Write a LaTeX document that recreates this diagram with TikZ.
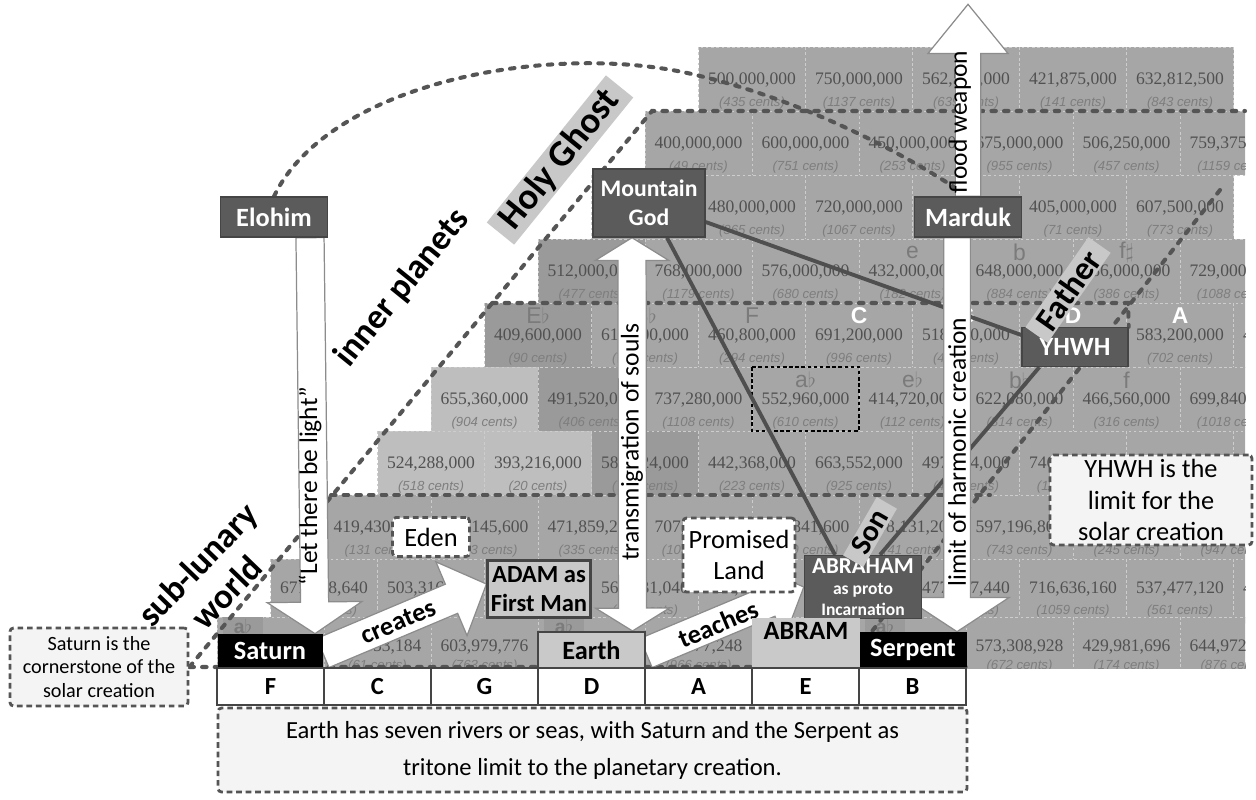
\documentclass[tikz,border=0pt]{standalone}
\usepackage{fontspec}
\setmainfont{Carlito}
\newfontfamily\numfont{Liberation Serif}
\newfontfamily\centfont{Liberation Sans}
\usetikzlibrary{calc}

\definecolor{cellm}{HTML}{A6A6A6}
\definecolor{celll}{HTML}{BEBEBE}
\definecolor{celld}{HTML}{9A9A9A}
\definecolor{cellline}{HTML}{CDCDCD}
\definecolor{numtxt}{HTML}{515151}
\definecolor{centtxt}{HTML}{7E7E7E}
\definecolor{notetxt}{HTML}{7B7B7B}
\definecolor{godfill}{HTML}{5B5B5B}
\definecolor{godline}{HTML}{454545}
\definecolor{lightfill}{HTML}{C9C9C9}
\definecolor{bandfill}{HTML}{C8C8C8}
\definecolor{dashline}{HTML}{555555}
\definecolor{wireline}{HTML}{4F4F4F}
\definecolor{arrowedge}{HTML}{8C8C8C}
\definecolor{notefill}{HTML}{F4F4F4}

\pgfdeclarelayer{grid}
\pgfdeclarelayer{wires}
\pgfsetlayers{grid,wires,main}

\def\px{0.02cm}

% one row of the staircase: name, left, top, number offset, cents offset, value/cents/shade
\newcommand{\cellrow}[6]{%
  \foreach \v/\c/\s [count=\j from 0] in {#6} {
    \path[cellbox, fill=cell\s] ({#2+107*\j},#3) rectangle ++(107,64);
    \node[numlbl] (#1-\j) at ({#2+107*\j+53.5},{#3+#4}) {\v};
    \node[centlbl] (#1-\j-c) at ({#2+107*\j+53.5},{#3+#5}) {(\c\ cents)};
  }}

% fat white arrow: [style] from, to, shaft half width, head half width, head length
\newcommand{\blockarrow}[6][]{%
  \draw[blockarr,#1] let \p1=(#2), \p2=(#3), \p3=($(\p2)!#6!(\p1)$) in
    ($(\p1)!#4!90:(\p2)$) -- ($(\p3)!#4!-90:(\p1)$) -- ($(\p3)!#5!-90:(\p1)$) -- (\p2)
    -- ($(\p3)!#5!90:(\p1)$) -- ($(\p3)!#4!90:(\p1)$) -- ($(\p1)!#4!-90:(\p2)$) -- cycle;}

% same, with a head at both ends
\newcommand{\dblockarrow}[6][]{%
  \draw[blockarr,#1] let \p1=(#2), \p2=(#3), \p3=($(\p2)!#6!(\p1)$), \p4=($(\p1)!#6!(\p2)$) in
    (\p1) -- ($(\p4)!#5!-90:(\p2)$) -- ($(\p4)!#4!-90:(\p2)$) -- ($(\p3)!#4!90:(\p1)$)
    -- ($(\p3)!#5!90:(\p1)$) -- (\p2) -- ($(\p3)!#5!-90:(\p1)$) -- ($(\p3)!#4!-90:(\p1)$)
    -- ($(\p4)!#4!90:(\p2)$) -- ($(\p4)!#5!90:(\p2)$) -- cycle;}

\begin{document}
\begin{tikzpicture}[x=\px, y=-\px,
  cellbox/.style={draw=cellline, line width=0.4pt, dash pattern=on 1.5pt off 1.5pt},
  numlbl/.style={font=\numfont\fontsize{10}{12}\selectfont, text=numtxt, inner sep=0pt},
  centlbl/.style={font=\centfont\itshape\fontsize{7.5}{9}\selectfont, text=centtxt, inner sep=0pt},
  notelbl/.style={font=\centfont\fontsize{13}{15}\selectfont, text=notetxt, inner sep=0pt},
  region/.style={draw=dashline, line width=2.3pt, line cap=round, dash pattern=on 2.6pt off 4.6pt},
  wire/.style={draw=wireline, line width=2.2pt},
  blockarr/.style={fill=white, draw=arrowedge, line width=0.7pt, line join=miter},
  godbox/.style={fill=godfill, draw=godline, line width=0.8pt, text=white, font=\bfseries\fontsize{15}{18}\selectfont, inner sep=0pt, align=center},
  blackbox/.style={fill=black, text=white, font=\bfseries\fontsize{15}{18}\selectfont, inner sep=0pt},
  lightbox/.style={fill=lightfill, draw=godline, line width=1.2pt, font=\bfseries\fontsize{15}{18}\selectfont, inner sep=0pt, align=center},
  letterbox/.style={fill=white, draw=godline, line width=1.3pt, font=\bfseries\fontsize{14}{16}\selectfont, minimum width=107*\px, minimum height=37*\px, inner sep=0pt},
  callout/.style={fill=notefill, draw=dashline, line width=1.6pt, dash pattern=on 3.2pt off 2.2pt, rounded corners=2pt, align=center, inner sep=0pt},
  band/.style={fill=bandfill, font=\bfseries\fontsize{21}{24}\selectfont, inner xsep=6pt, inner ysep=1pt},
  tag/.style={font=\bfseries\fontsize{20}{23}\selectfont, align=center, inner sep=0pt},
  flowtxt/.style={font=\fontsize{14.5}{17}\selectfont, inner sep=0pt},
  steptxt/.style={font=\bfseries\fontsize{15}{18}\selectfont, inner sep=0pt},
]
\useasboundingbox (0,0) rectangle (1256,799);

% boxes of the creation story
\node[godbox, minimum width=107*\px, minimum height=40*\px] (elohim) at (274,217) {Elohim};
\node[godbox, minimum width=112*\px, minimum height=68*\px, font=\bfseries\fontsize{13.5}{16.5}\selectfont] (mgod) at (649,203) {Mountain\\God};
\node[godbox, minimum width=107*\px, minimum height=40*\px] (marduk) at (968,217) {Marduk};
\node[godbox, minimum width=106*\px, minimum height=39*\px] (yhwh) at (1075,347) {YHWH};
\node[godbox, minimum width=117*\px, minimum height=63*\px, font=\bfseries\fontsize{13}{14}\selectfont] (abraham) at (863,587)
  {ABRAHAM\\[-2pt]{\fontsize{10}{11}\selectfont as proto}\\[-2pt]{\fontsize{10}{11}\selectfont Incarnation}};
\node[lightbox, minimum width=103*\px, minimum height=57*\px, font=\bfseries\fontsize{14}{16.5}\selectfont] (adam) at (539,589) {ADAM as\\First Man};

\node[blackbox, minimum width=105*\px, minimum height=34*\px] (saturn) at (270,651) {Saturn};
\node[lightbox, minimum width=107*\px, minimum height=36*\px] (earth) at (591.5,650) {Earth};
\node[lightbox, minimum width=108*\px, minimum height=50*\px, draw=none] (abram) at (806,643) {};
\node[font=\bfseries\fontsize{15}{18}\selectfont, inner sep=0pt] (abramlbl) at (806,631) {ABRAM};
\node[blackbox, minimum width=107*\px, minimum height=36*\px] (serpent) at (913,650) {Serpent};

% the seven tones under the bottom row
\foreach \n [count=\k from 0] in {F,C,G,D,A,E,B}
  \node[letterbox] (let\n) at ({270.5+107*\k},686.5) {\n};

% notes
\node[callout, minimum width=749*\px, minimum height=84*\px, font=\fontsize{14}{21}\selectfont] (riversnote) at (592.5,750)
  {Earth has seven rivers or seas, with Saturn and the Serpent as\\tritone limit to the planetary creation.};
\node[callout, minimum width=178*\px, minimum height=78*\px, font=\fontsize{11.5}{13.5}\selectfont] (satnote) at (99,667)
  {Saturn is the\\cornerstone of the\\solar creation};
\node[callout, minimum width=202*\px, minimum height=90*\px, font=\fontsize{15}{18}\selectfont] (yhwhnote) at (1151,500)
  {YHWH is the\\limit for the\\solar creation};
\node[callout, minimum width=77*\px, minimum height=39*\px, fill=white, font=\fontsize{15}{18}\selectfont] (eden) at (431,537) {Eden};
\node[callout, minimum width=112*\px, minimum height=74*\px, fill=white, font=\fontsize{15}{18}\selectfont] (promised) at (739,555) {Promised\\Land};

% slanted region names
\node[band, rotate=51] (holyghost) at (560,160) {Holy Ghost};
\node[band, rotate=55, font=\bfseries\fontsize{19}{22}\selectfont] (father) at (1068,290) {Father};
\node[band, rotate=60, font=\bfseries\fontsize{17}{20}\selectfont] (son) at (870,532) {Son};
\node[tag, rotate=51] (inner) at (402,288) {inner planets};
\node[tag, rotate=46] (sublunar) at (212,578) {sub-lunary\\world};

% corners of the dashed regions
\coordinate (hgcorner) at (652,111);
\coordinate (toprow) at (1245,111);
\coordinate (sonwest) at (331,495);
\coordinate (soneast) at (990,495);
\coordinate (planwest) at (492,303);
\coordinate (planeast) at (1128,303);
\coordinate (fathertop) at (1220,190);
\coordinate (fatherfoot) at (843,668);
\coordinate (skyturn) at (700,76);

\begin{pgfonlayer}{grid}
  \begin{scope}
    \clip (0,0) rectangle (1245,668);
    \cellrow{r1}{698.5}{47}{33}{56}{{500,000,000}/435/m, {750,000,000}/1137/m, {562,500,000}/639/m, {421,875,000}/141/m, {632,812,500}/843/m}
    \cellrow{r2}{645}{111}{33}{56}{{400,000,000}/49/m, {600,000,000}/751/m, {450,000,000}/253/m, {675,000,000}/955/m, {506,250,000}/457/m, {759,375,000}/1159/m}
    \cellrow{r3}{591.5}{175}{33}{56}{{640,000,000}/863/m, {480,000,000}/365/m, {720,000,000}/1067/m, {540,000,000}/569/m, {405,000,000}/71/m, {607,500,000}/773/m}
    \cellrow{r4}{538}{239}{33}{56}{{512,000,000}/477/d, {768,000,000}/1179/m, {576,000,000}/680/m, {432,000,000}/182/m, {648,000,000}/884/m, {486,000,000}/386/m, {729,000,000}/1088/m}
    \cellrow{r5}{484.5}{303}{33}{56}{{409,600,000}/90/d, {614,400,000}/792/m, {460,800,000}/294/m, {691,200,000}/996/m, {518,400,000}/498/m, {388,800,000}/0/m, {583,200,000}/702/m, {437,400,000}/204/m}
    \cellrow{r6}{431}{367}{33}{56}{{655,360,000}/904/l, {491,520,000}/406/d, {737,280,000}/1108/m, {552,960,000}/610/m, {414,720,000}/112/m, {622,080,000}/814/m, {466,560,000}/316/m, {699,840,000}/1018/m}
    \cellrow{r7}{377.5}{431}{33}{56}{{524,288,000}/518/l, {393,216,000}/20/l, {589,824,000}/722/d, {442,368,000}/223/m, {663,552,000}/925/m, {497,664,000}/427/m, {746,496,000}/1129/m, {559,872,000}/631/m, {419,904,000}/133/m}
    \cellrow{r8}{324}{495}{33}{56}{{419,430,400}/131/m, {629,145,600}/833/m, {471,859,200}/335/m, {707,788,800}/1037/m, {530,841,600}/539/m, {398,131,200}/41/m, {597,196,800}/743/m, {447,897,600}/245/m, {671,846,400}/947/m}
    \cellrow{r9}{270.5}{559}{30}{52}{{671,088,640}/945/m, {503,316,480}/447/m, {754,974,720}/1149/m, {566,231,040}/651/m, {424,673,280}/153/m, {637,009,920}/855/m, {477,757,440}/357/m, {716,636,160}/1059/m, {537,477,120}/561/m, {403,107,840}/63/m}
    \cellrow{r10}{217}{617}{30}{49}{{536,870,912}/559/m, {402,653,184}/61/m, {603,979,776}/763/m, {452,984,832}/265/m, {679,477,248}/966/m, {509,607,936}/468/m, {764,411,904}/1170/m, {573,308,928}/672/m, {429,981,696}/174/m, {644,972,544}/876/m}
  \end{scope}
  % note names over the cells
  \foreach \t/\x/\y [count=\k] in {e/912.5/252, b/1019.5/252, f$\sharp$/1126.5/252,
      E$\flat$/538/316, B$\flat$/645/316, F/752/316,
      a$\flat$/805.5/380, e$\flat$/912.5/380, b$\flat$/1019.5/380, f/1126.5/380}
    \node[notelbl] (note\k) at (\x,\y) {\t};
  \foreach \t/\x [count=\k] in {C/859, G/966, D/1073, A/1180}
    \node[notelbl, text=white, font=\centfont\bfseries\fontsize{13}{15}\selectfont] (wnote\k) at (\x,316) {\t};
  \foreach \x [count=\k] in {243, 564, 885}
    \node[notelbl, fill=celld, minimum width=40*\px, minimum height=18*\px, font=\centfont\bfseries\fontsize{11}{13}\selectfont] (aflat\k) at (\x,626) {a$\flat$};
  % the tritone cell
  \draw[black, line width=1pt, dash pattern=on 2pt off 1.5pt] (752,367) rectangle (859,431);
\end{pgfonlayer}

\begin{pgfonlayer}{wires}
  \draw[region] (satnote.east) -- (hgcorner) -- (toprow);
  \draw[region] (sonwest) -- (soneast);
  \draw[region] (planwest) -- (planeast) -- (yhwh.north east);
  \draw[region] (fathertop) -- (fatherfoot);
  \draw[region] (satnote.east) -- (letB.north east);
  \draw[region] (elohim.north) .. controls (330,80) and (560,40) .. (skyturn)
    .. controls (800,100) and (900,150) .. (marduk.north);

  \draw[wire] ($(mgod.south)+(18,0)$) -- ($(abraham.north)+(-28,0)$);
  \draw[wire] ($(mgod.east)+(0,19)$) -- ($(yhwh.west)+(0,-12)$);
  \draw[wire] ($(yhwh.south west)+(18,0)$) -- ($(abraham.north)+(17,0)$);

  \blockarrow{$(elohim.south)+(36,0)$}{$(saturn.north)+(45,0)$}{8pt}{27pt}{18pt}
  \blockarrow{marduk.north}{$(marduk.north)+(0,-192)$}{7.2pt}{22.8pt}{28pt}
  \blockarrow{$(marduk.south)+(-11,0)$}{$(serpent.north)+(44,0)$}{7.6pt}{29.6pt}{19.4pt}
  \dblockarrow{$(mgod.south)+(-17,0)$}{$(earth.north)+(41,0)$}{8pt}{21pt}{13pt}
  \blockarrow{$(saturn.east)+(0,2)$}{$(adam.west)+(0,-5)$}{9pt}{22.8pt}{21.6pt}
  \blockarrow{$(earth.east)+(0,3)$}{$(abraham.west)+(0,0)$}{9pt}{22.8pt}{21.6pt}

  \node[flowtxt, rotate=90] (lighttxt) at (310,486) {“Let there be light”};
  \node[flowtxt, rotate=90] (soulstxt) at (632,442) {transmigration of souls};
  \node[flowtxt, rotate=90] (floodtxt) at (960,122) {flood weapon};
  \node[flowtxt, rotate=90] (limittxt) at (957,452) {limit of harmonic creation};
  \node[steptxt, rotate=23] (createtxt) at (398,622) {creates};
  \node[steptxt, rotate=23] (teachtxt) at (718,624) {teaches};
\end{pgfonlayer}
\end{tikzpicture}
\end{document}
